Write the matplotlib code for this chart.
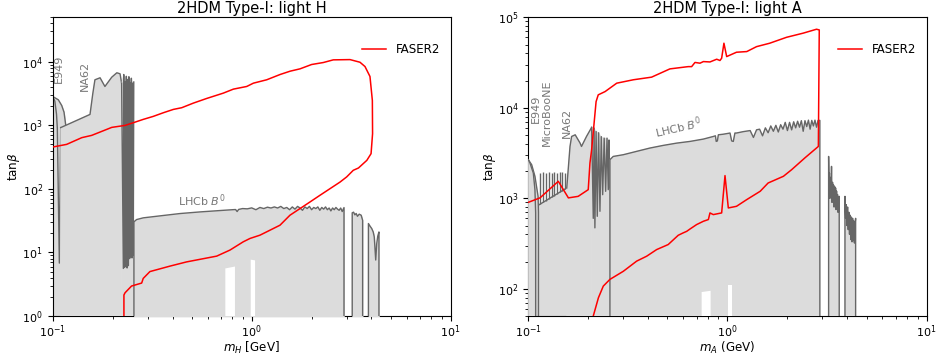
import matplotlib
matplotlib.use("Agg")
import matplotlib.pyplot as plt
import numpy as np

FILL = "#dcdcdc"
EDGE = "#666666"
TXT = "#777777"
FLOOR = 1e-2

# ---------------- light H (left panel) ----------------
e949_h_outer_x = [0.100, 0.1067, 0.111, 0.114, 0.1163, 0.117]
e949_h_outer_y = [2840, 2520, 2050, 1610, 1000, FLOOR]
e949_h_inner_x = [0.100, 0.1025, 0.1045, 0.1055, 0.108, 0.1097]
e949_h_inner_y = [2840, 2400, 1500, 900, 6.8, 920]

na62_h_x = [0.1097, 0.154, 0.159, 0.163, 0.173, 0.183, 0.198, 0.210, 0.218, 0.222]
na62_h_y = [920, 1483, 3133, 5200, 5590, 4080, 5710, 6700, 6460, 4600]
osc_h_x = [0.222, 0.2265, 0.2275, 0.2295, 0.231, 0.233, 0.2345, 0.2365, 0.238, 0.240,
           0.2415, 0.2435, 0.245, 0.247, 0.2485, 0.2505, 0.252, 0.254, 0.2555]
osc_h_y = [4600, 5.6, 6300, 5.8, 4800, 6.0, 5900, 5.7, 5200, 6.2,
           5800, 8.0, 4700, 8.5, 5500, 8.2, 4600, 9.0, 4800]

lhcb_h_x = [0.256, 0.256, 0.264, 0.285, 0.346, 0.436, 0.550, 0.693, 0.800, 0.830,
            0.845, 0.860, 0.900, 0.950, 1.00, 1.05, 1.10, 1.15, 1.20, 1.25,
            1.30, 1.35, 1.40, 1.45, 1.50, 1.55, 1.60, 1.65, 1.70, 1.75,
            1.80, 1.85, 1.90, 1.95, 2.00, 2.05, 2.10, 2.15, 2.20, 2.25,
            2.30, 2.35, 2.40, 2.45, 2.50, 2.55, 2.60, 2.65, 2.70, 2.75,
            2.80, 2.85, 2.91, 2.91]
lhcb_h_y = [FLOOR, 30.3, 32.9, 35, 37.6, 40.9, 43.4, 45.6, 47, 47.3,
            44, 47.5, 49, 48.5, 50.2, 47, 51, 49, 51.5, 50,
            52, 50, 53, 49, 51, 47, 52, 48, 53, 50,
            46, 52, 49, 53, 47, 51, 49, 52, 46, 51,
            48, 52, 47, 50, 45, 50, 47, 51, 48, 46,
            50, 44, 50.8, FLOOR]
lhcb2_h_x = [3.20, 3.20, 3.25, 3.30, 3.35, 3.40, 3.47, 3.55, 3.61, 3.61]
lhcb2_h_y = [FLOOR, 42, 43, 39, 41, 37, 40, 38.5, 32, FLOOR]
lhcb3_h_x = [3.86, 3.86, 3.93, 4.01, 4.08, 4.13, 4.20, 4.25, 4.30, 4.36, 4.36]
lhcb3_h_y = [FLOOR, 28.5, 26, 23.8, 21, 17.6, 7.6, 13.8, 18, 21, FLOOR]

holes_h = [([0.737, 0.824], [5.6, 6.0]), ([0.989, 1.04], [7.7, 7.5])]

faser_h_x = [0.100, 0.1175, 0.140, 0.157, 0.173, 0.198, 0.231, 0.254, 0.285, 0.320,
             0.360, 0.404, 0.445, 0.509, 0.594, 0.720, 0.809, 0.944, 1.02, 1.19,
             1.39, 1.56, 1.75, 2.00, 2.29, 2.57, 3.12, 3.50, 3.71, 3.93,
             4.04, 4.05, 3.98, 3.79, 3.44, 3.24, 3.00, 2.78, 2.20, 1.96,
             1.557, 1.387, 1.101, 0.981, 0.907, 0.778, 0.667, 0.471, 0.389, 0.308,
             0.285, 0.280, 0.249, 0.231, 0.228, 0.228]
faser_h_y = [455, 501, 639, 694, 783, 927, 996, 1097, 1238, 1380,
             1577, 1778, 1890, 2233, 2643, 3206, 3706, 4080, 4600, 5200,
             6300, 7100, 7730, 9040, 9710, 10700, 10800, 9820, 8400, 5860,
             2460, 738, 358, 281, 213, 196, 154, 128, 79, 62,
             38.5, 26.8, 18.7, 16.6, 14.7, 10.9, 8.75, 7.1, 6.1, 5.0,
             3.9, 3.3, 2.96, 2.32, 2.14, 0.5]

# ---------------- light A (right panel) ----------------
mb_a_x = [0.110, 0.110, 0.156]
mb_a_y = [FLOOR, 815, 1300]
mb_teeth_x = [0.1145, 0.119, 0.1227, 0.127, 0.131, 0.135, 0.140, 0.1443, 0.148, 0.153]
mb_teeth_lo = [860, 905, 943, 988, 1030, 1072, 1125, 1172, 1212, 1268]
mb_teeth_hi = [1900, 1950, 1900, 1950, 1900, 1950, 1900, 1950, 1950, 1900]

e949_a_inner_x = [0.100, 0.102, 0.106, 0.108, 0.1089, 0.1089]
e949_a_inner_y = [2670, 2450, 1900, 1245, 690, FLOOR]
e949_a_outer_x = [0.100, 0.104, 0.108, 0.112, 0.1125, 0.1125]
e949_a_outer_y = [2670, 2350, 1750, 1050, 700, FLOOR]

na62_a_x = [0.156, 0.162, 0.165, 0.172, 0.182, 0.185, 0.196, 0.208]
na62_a_y = [1300, 3740, 4820, 5030, 4070, 3740, 4820, 6070]
osc_a_x = [0.208, 0.212, 0.214, 0.216, 0.219, 0.222, 0.2255, 0.229, 0.2325, 0.2363,
           0.2405, 0.2446, 0.2485, 0.2521, 0.2545, 0.2555, 0.257]
osc_a_y = [6070, 600, 5970, 471, 5470, 632, 5300, 718, 4800, 1096,
           4620, 1194, 4620, 1245, 4400, 1300, 2670]

lhcb_a_x = [0.257, 0.257, 0.267, 0.300, 0.350, 0.408, 0.476, 0.556, 0.649, 0.757,
            0.849, 0.870, 0.878, 0.890, 0.900, 0.95, 1.00, 1.03, 1.05, 1.07,
            1.09, 1.11, 1.20, 1.30, 1.35, 1.40, 1.45, 1.50, 1.55, 1.60,
            1.65, 1.70, 1.75, 1.80, 1.85, 1.90, 1.95, 2.00, 2.05, 2.10,
            2.15, 2.20, 2.25, 2.30, 2.35, 2.40, 2.45, 2.50, 2.55, 2.60,
            2.65, 2.70, 2.75, 2.80, 2.85, 2.91, 2.91]
lhcb_a_y = [FLOOR, 2670, 2900, 3030, 3300, 3590, 3840, 4070, 4250, 4510,
            4820, 4900, 4250, 4300, 5030, 5100, 5200, 5260, 4300, 4250,
            5260, 5260, 5450, 5600, 4700, 5710, 5800, 4900, 6000, 5300,
            6300, 5500, 6400, 5400, 6500, 5800, 6900, 5600, 6900, 5700,
            7000, 6000, 7100, 6100, 7200, 5500, 7200, 6200, 7300, 5800,
            7250, 6300, 7300, 6100, 7250, 7250, FLOOR]
lhcb2_a_x = [3.22, 3.22, 3.235, 3.25, 3.27, 3.29, 3.31, 3.33, 3.35, 3.37,
             3.39, 3.41, 3.43, 3.45, 3.47, 3.49, 3.51, 3.53, 3.55, 3.57,
             3.59, 3.61, 3.63, 3.64, 3.64]
lhcb2_a_y = [FLOOR, 2900, 1300, 1900, 1000, 1700, 1100, 2250, 900, 1500,
             1000, 1400, 800, 1350, 900, 1300, 750, 1200, 800, 1100,
             700, 1000, 720, 1050, FLOOR]
lhcb3_a_x = [3.89, 3.89, 3.92, 3.95, 3.98, 4.01, 4.04, 4.07, 4.10, 4.13,
             4.16, 4.19, 4.22, 4.25, 4.28, 4.31, 4.34, 4.37, 4.40, 4.40]
lhcb3_a_y = [FLOOR, 1050, 600, 850, 500, 800, 450, 700, 400, 650,
             350, 620, 330, 600, 340, 560, 320, 520, 600, FLOOR]

holes_a = [([0.742, 0.823], [92, 95]), ([1.002, 1.05], [109, 109])]

faser_a_x = [0.100, 0.1145, 0.1415, 0.159, 0.178, 0.200, 0.204, 0.208, 0.219, 0.2245,
             0.243, 0.278, 0.337, 0.416, 0.514, 0.635, 0.661, 0.687, 0.728, 0.757,
             0.817, 0.883, 0.917, 0.935, 0.960, 0.991, 1.11, 1.25, 1.40, 1.63,
             1.98, 2.40, 2.80, 2.89, 2.86, 2.45, 2.10, 1.91, 1.60, 1.46,
             1.25, 1.11, 1.01, 0.972, 0.935, 0.849, 0.817, 0.802, 0.757, 0.700,
             0.649, 0.624, 0.600, 0.566, 0.504, 0.441, 0.393, 0.350, 0.300, 0.257,
             0.238, 0.225, 0.212, 0.209]
faser_a_y = [902, 1010, 1540, 1010, 1050, 1245, 2450, 3440, 11700, 13900,
             15100, 18700, 20400, 21800, 26900, 28500, 28500, 31700, 31100, 32400,
             32100, 34400, 33300, 35300, 51700, 36800, 41100, 41800, 47400, 51700,
             60100, 66800, 73800, 72500, 3740, 2800, 2070, 1750, 1475, 1195,
             967, 815, 782, 1780, 689, 660, 689, 582, 557, 512,
             458, 431, 415, 390, 308, 271, 229, 202, 156, 127,
             107, 79.6, 50, 40]


def region(ax, x, y, z, fill_x=None, fill_y=None):
    fx = x if fill_x is None else fill_x
    fy = y if fill_y is None else fill_y
    # thin edge in the fill colour hides seams between neighbouring regions
    ax.fill_between(fx, fy, FLOOR, facecolor=FILL, edgecolor=FILL, lw=0.4, zorder=z)
    ax.plot(x, y, color=EDGE, lw=1.0, zorder=z + 0.5)


def style(ax, title, xlabel, ylim):
    ax.set_xscale("log")
    ax.set_yscale("log")
    ax.set_xlim(0.1, 10)
    ax.set_ylim(*ylim)
    ax.set_title(title, fontsize=10.5, pad=3)
    ax.set_xlabel(xlabel, fontsize=8.6, labelpad=0.5)
    ax.set_ylabel(r"tan$\beta$", fontsize=8.6, labelpad=0)
    ax.tick_params(labelsize=8)
    ax.tick_params(axis="x", which="major", pad=1.5)
    ax.legend(loc="upper right", bbox_to_anchor=(1.0, 0.95), frameon=False, fontsize=8.6)


fig = plt.figure(figsize=(9.36, 3.58), dpi=100)
ax1 = fig.add_axes([0.0563, 0.1173, 0.4252, 0.8344])
ax2 = fig.add_axes([0.5644, 0.1173, 0.4256, 0.8344])

# left panel
region(ax1, e949_h_outer_x, e949_h_outer_y, 1)
region(ax1, e949_h_inner_x, e949_h_inner_y, 2)
region(ax1, na62_h_x, na62_h_y, 3)
region(ax1, osc_h_x, osc_h_y, 4, osc_h_x[::2], osc_h_y[::2])
region(ax1, lhcb_h_x, lhcb_h_y, 5)
region(ax1, lhcb2_h_x, lhcb2_h_y, 6)
region(ax1, lhcb3_h_x, lhcb3_h_y, 7)
for hx, hy in holes_h:
    ax1.fill_between(hx, hy, FLOOR, facecolor="white", lw=0, zorder=9)
ax1.plot(faser_h_x, faser_h_y, color="red", lw=1.1, zorder=20, label="FASER2")
ax1.text(0.1075, 7800, "E949", rotation=90, color=TXT, fontsize=8, ha="center", va="center")
ax1.text(0.145, 5870, "NA62", rotation=90, color=TXT, fontsize=8, ha="center", va="center")
ax1.text(0.562, 66, r"LHCb $B^0$", color=TXT, fontsize=8, ha="center", va="center")
style(ax1, "2HDM Type-I: light H", r"$m_H$ [GeV]", (1, 5e4))

# right panel
region(ax2, mb_a_x, mb_a_y, 1)
ax2.vlines(mb_teeth_x, mb_teeth_lo, mb_teeth_hi, color=EDGE, lw=1.0, zorder=1.6)
region(ax2, e949_a_outer_x, e949_a_outer_y, 2)
region(ax2, e949_a_inner_x, e949_a_inner_y, 3)
region(ax2, na62_a_x, na62_a_y, 4)
region(ax2, osc_a_x, osc_a_y, 5, osc_a_x[::2], osc_a_y[::2])
region(ax2, lhcb_a_x, lhcb_a_y, 6)
region(ax2, lhcb2_a_x, lhcb2_a_y, 7)
region(ax2, lhcb3_a_x, lhcb3_a_y, 8)
for hx, hy in holes_a:
    ax2.fill_between(hx, hy, FLOOR, facecolor="white", lw=0, zorder=9)
ax2.plot(faser_a_x, faser_a_y, color="red", lw=1.1, zorder=20, label="FASER2")
ax2.text(0.109, 9750, "E949", rotation=90, color=TXT, fontsize=8, ha="center", va="center")
ax2.text(0.1237, 8910, "MicroBooNE", rotation=90, color=TXT, fontsize=8, ha="center", va="center")
ax2.text(0.157, 6820, "NA62", rotation=90, color=TXT, fontsize=8, ha="center", va="center")
ax2.text(0.564, 6010, r"LHCb $B^0$", rotation=13, color=TXT, fontsize=8, ha="center", va="center")
style(ax2, "2HDM Type-I: light A", r"$m_A$ (GeV)", (50, 1e5))

fig.savefig("out.png", dpi=100)
